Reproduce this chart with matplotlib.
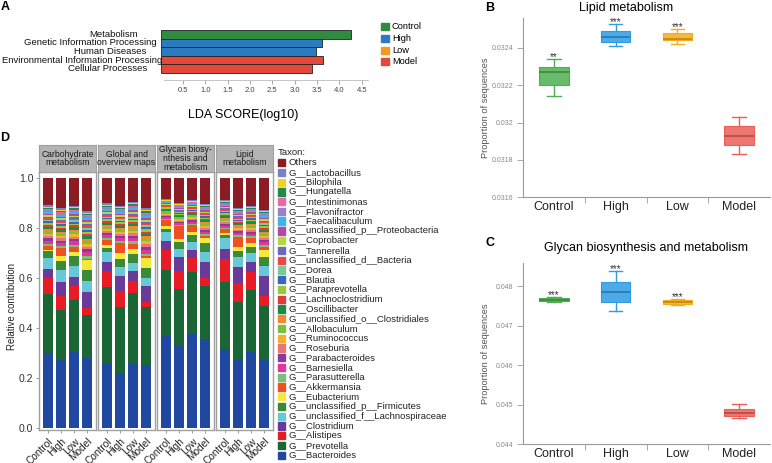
import numpy as np
import matplotlib
matplotlib.use("Agg")
import matplotlib.pyplot as plt
from matplotlib.patches import Rectangle
from matplotlib.colors import to_rgba

plt.rcParams['font.family'] = ['Liberation Sans', 'DejaVu Sans']

W, H = 772, 463

def box(x0, y0, x1, y1):
    # pixel box, origin top-left -> figure rect
    return [x0 / W, 1 - y1 / H, (x1 - x0) / W, (y1 - y0) / H]

def fx(x):
    return x / W

def fy(y):
    return 1 - y / H

# ---------------- data ----------------
groups = ['Control', 'High', 'Low', 'Model']
lda_colors = ['#2e8b3f', '#2b7bc0', '#f39a1e', '#e5483b']
box_colors = ['#4caf50', '#2f9be3', '#f5ac1b', '#ea5f58']

# A: LEfSe
lda_terms = ['Metabolism', 'Genetic Information Processing', 'Human Diseases',
             'Environmental Information Processing', 'Cellular Processes']
lda_scores = [4.25, 3.62, 3.48, 3.64, 3.38]
lda_group = ['Control', 'High', 'High', 'Model', 'Model']
lda_ticks = [0.5, 1.0, 1.5, 2.0, 2.5, 3.0, 3.5, 4.0, 4.5]

# B: lipid metabolism
lipid_whislo = [0.03214, 0.03241, 0.03242, 0.03183]
lipid_q1 = [0.03220, 0.03243, 0.03244, 0.03188]
lipid_med = [0.03227, 0.03246, 0.03245, 0.03193]
lipid_q3 = [0.03230, 0.03249, 0.03248, 0.03198]
lipid_whishi = [0.03234, 0.03253, 0.03250, 0.03203]
lipid_stars = ['**', '***', '***', '']
lipid_yticks = [0.0316, 0.0318, 0.0320, 0.0322, 0.0324]
lipid_ylabels = ['0.0316', '0.0318', '0.032', '0.0322', '0.0324']

# C: glycan biosynthesis and metabolism
glycan_whislo = [0.04760, 0.04737, 0.04752, 0.04466]
glycan_q1 = [0.04762, 0.04761, 0.04756, 0.04471]
glycan_med = [0.04765, 0.04786, 0.04760, 0.04478]
glycan_q3 = [0.04770, 0.04810, 0.04765, 0.04489]
glycan_whishi = [0.04773, 0.04839, 0.04768, 0.04501]
glycan_stars = ['***', '***', '***', '']
glycan_yticks = [0.044, 0.045, 0.046, 0.047, 0.048]
glycan_ylabels = ['0.044', '0.045', '0.046', '0.047', '0.048']

# D: taxon contribution (per mille), columns = 4 pathways x (Control, High, Low, Model)
pathways = ['Carbohydrate\nmetabolism', 'Global and\noverview maps',
            'Glycan biosy-\nnthesis and\nmetabolism', 'Lipid\nmetabolism']
taxa = ['Others', 'G__Lactobacillus', 'G__Bilophila', 'G__Hungatella',
        'G__Intestinimonas', 'G__Flavonifractor', 'G__Faecalibaculum',
        'G__unclassified_p__Proteobacteria', 'G__Coprobacter', 'G__Tannerella',
        'G__unclassified_d__Bacteria', 'G__Dorea', 'G__Blautia',
        'G__Paraprevotella', 'G__Lachnoclostridium', 'G__Oscillibacter',
        'G__unclassified_o__Clostridiales', 'G__Allobaculum', 'G__Ruminococcus',
        'G__Roseburia', 'G__Parabacteroides', 'G__Barnesiella',
        'G__Parasutterella', 'G__Akkermansia', 'G__Eubacterium',
        'G__unclassified_p__Firmicutes', 'G__unclassified_f__Lachnospiraceae',
        'G__Clostridium', 'G__Alistipes', 'G__Prevotella', 'G__Bacteroides']
taxon_colors = ['#8b1c24', '#7b7fc4', '#f2cf2e', '#1f8a4c', '#e868a8', '#9b7fc8',
                '#3db4e8', '#b04aa8', '#b8d640', '#6a6ab8', '#e84848', '#7cc89a',
                '#3a66c0', '#98c83a', '#e03a3a', '#1e8a48', '#f08a30', '#7cc040',
                '#f5b030', '#e87878', '#8a3a9a', '#e0389a', '#78c078', '#ee5020',
                '#f5e838', '#3a8a3a', '#68c8d8', '#6a3a9a', '#e81c24', '#1a6634',
                '#2048a0']
abund = [
    [107, 120, 111, 130, 100, 111, 94, 120, 84, 100, 87, 103, 87, 120, 111, 127],
    [7, 7, 6, 8, 6, 6, 7, 8, 3, 4, 4, 5, 5, 5, 5, 6],
    [5, 4, 4, 5, 4, 4, 4, 5, 3, 2, 3, 3, 3, 3, 3, 4],
    [4, 4, 5, 5, 4, 4, 5, 5, 2, 3, 3, 4, 3, 3, 4, 4],
    [4, 5, 4, 5, 4, 4, 4, 5, 2, 2, 3, 3, 3, 3, 3, 4],
    [7, 6, 6, 8, 6, 6, 7, 8, 3, 4, 4, 5, 5, 5, 5, 6],
    [8, 8, 8, 9, 7, 7, 8, 9, 4, 4, 5, 6, 5, 5, 6, 7],
    [6, 6, 7, 8, 6, 6, 7, 8, 4, 4, 4, 5, 5, 5, 5, 6],
    [7, 7, 6, 8, 6, 6, 7, 8, 3, 4, 4, 5, 5, 4, 5, 6],
    [7, 6, 6, 8, 6, 6, 7, 8, 4, 4, 4, 5, 5, 5, 5, 6],
    [5, 5, 6, 6, 5, 5, 5, 6, 3, 3, 3, 4, 4, 4, 4, 5],
    [6, 7, 7, 8, 6, 6, 7, 8, 3, 4, 4, 5, 5, 4, 5, 6],
    [7, 6, 6, 8, 6, 6, 7, 8, 3, 4, 4, 5, 5, 5, 5, 6],
    [8, 7, 8, 9, 7, 7, 8, 9, 4, 4, 5, 6, 6, 5, 6, 7],
    [7, 6, 7, 8, 6, 6, 7, 8, 3, 4, 4, 5, 5, 5, 5, 6],
    [10, 10, 10, 11, 9, 9, 10, 11, 5, 6, 6, 8, 7, 7, 8, 9],
    [9, 9, 9, 10, 8, 8, 9, 10, 4, 5, 5, 7, 6, 6, 7, 8],
    [9, 8, 9, 10, 8, 8, 9, 10, 5, 5, 5, 7, 6, 6, 7, 8],
    [10, 10, 10, 12, 9, 9, 10, 12, 5, 5, 6, 8, 7, 7, 8, 9],
    [9, 9, 9, 10, 8, 8, 9, 10, 5, 5, 5, 7, 6, 6, 7, 8],
    [10, 10, 10, 11, 9, 9, 10, 11, 5, 6, 6, 8, 7, 7, 8, 9],
    [13, 12, 13, 16, 12, 12, 13, 16, 7, 7, 8, 11, 9, 9, 10, 12],
    [9, 8, 9, 10, 8, 8, 9, 10, 5, 5, 5, 7, 6, 6, 7, 8],
    [13, 33, 20, 8, 20, 38, 20, 7, 24, 50, 27, 7, 13, 40, 20, 9],
    [7, 20, 17, 37, 10, 24, 20, 40, 11, 13, 13, 22, 9, 19, 16, 30],
    [26, 36, 41, 45, 18, 32, 37, 40, 13, 27, 27, 35, 14, 24, 24, 35],
    [45, 46, 42, 45, 41, 35, 32, 35, 36, 33, 33, 38, 44, 37, 37, 40],
    [35, 56, 38, 66, 34, 63, 40, 64, 33, 56, 35, 65, 40, 67, 40, 80],
    [67, 59, 56, 27, 64, 64, 51, 21, 81, 71, 54, 31, 93, 74, 70, 43],
    [238, 198, 207, 171, 312, 266, 285, 233, 263, 231, 248, 214, 268, 230, 250, 214],
    [298, 271, 305, 281, 254, 215, 254, 250, 369, 328, 376, 354, 314, 275, 302, 271],
]
d_yticks = [0.0, 0.2, 0.4, 0.6, 0.8, 1.0]

# ---------------- figure ----------------
fig = plt.figure(figsize=(W / 100, H / 100), dpi=100)

for lab, (x, y) in zip('ABCD', [(5, 7), (490, 8), (490, 243), (5, 138)]):
    fig.text(fx(x), fy(y), lab, fontsize=9, fontweight='bold', ha='center', va='center')

# ---- A ----
axA = fig.add_axes(box(163.7, 30, 368, 80))
ypos = np.arange(len(lda_terms))
bar_cols = [lda_colors[groups.index(g)] for g in lda_group]
axA.barh(ypos, lda_scores, height=1.0, color=bar_cols, edgecolor='#222222',
         linewidth=0.6, clip_on=False)
axA.set_xlim(0.07, 4.64)
axA.set_ylim(5.3, -0.5)
axA.set_yticks([])
# LEfSe places the term labels unevenly; right edges in pixels
label_right = [138, 157, 146, 162, 147]
for yy, term, xr in zip(ypos, lda_terms, label_right):
    fig.text(fx(xr), fy(30 + (yy + 0.5) * 8.6), term, fontsize=6.8, ha='right',
             va='center', color='#111111')
axA.set_xticks(lda_ticks)
axA.set_xticklabels([str(t) for t in lda_ticks], fontsize=5.5, color='#444444')
axA.tick_params(axis='x', length=3, color='#999999', width=0.6, pad=2)
for s in ['top', 'right', 'left']:
    axA.spines[s].set_visible(False)
axA.spines['bottom'].set_color('#bbbbbb')
axA.spines['bottom'].set_linewidth(0.6)
fig.text(fx(243), fy(115), 'LDA SCORE(log10)', fontsize=9, ha='center', va='center')
for i, (g, c) in enumerate(zip(groups, lda_colors)):
    y = 26.7 + i * 11.7
    fig.patches.append(Rectangle((fx(380.5), fy(y + 3.5)), 8 / W, 7 / H,
                                 transform=fig.transFigure, color=c))
    fig.text(fx(392), fy(y), g, fontsize=6.7, va='center')

# ---- B and C ----
def boxpanel(rect, lo, q1, med, q3, hi, stars, yticks, ylabels, ylim, title, title_xy):
    ax = fig.add_axes(box(*rect))
    stats = [dict(med=med[i], q1=q1[i], q3=q3[i], whislo=lo[i], whishi=hi[i], fliers=[])
             for i in range(len(groups))]
    bp = ax.bxp(stats, positions=range(4), widths=0.48, patch_artist=True,
                showfliers=False, capwidths=0.22)
    for i, c in enumerate(box_colors):
        bp['boxes'][i].set_facecolor(to_rgba(c, 0.85))
        bp['boxes'][i].set_edgecolor(c)
        bp['boxes'][i].set_linewidth(0.8)
        for ln in bp['whiskers'][2 * i:2 * i + 2] + bp['caps'][2 * i:2 * i + 2]:
            ln.set_color(c)
            ln.set_linewidth(1.0)
        bp['medians'][i].set_color(tuple(np.array(to_rgba(c)[:3]) * 0.8))
        bp['medians'][i].set_linewidth(1.3)
    for i, s in enumerate(stars):
        if s:
            ax.annotate(s, (i, hi[i]), xytext=(0, -0.8), textcoords='offset points',
                        ha='center', va='baseline', fontsize=7, color='#333333')
    ax.set_xlim(-0.5, 3.5)
    ax.set_ylim(*ylim)
    ax.set_yticks(yticks)
    ax.set_yticklabels(ylabels, fontsize=5, color='#888888')
    ax.tick_params(axis='y', length=4, color='#999999', width=0.6, pad=3)
    ax.set_xticks([0.5, 1.5, 2.5])
    ax.set_xticklabels([])
    ax.tick_params(axis='x', which='major', length=4, color='#999999', width=0.6)
    ax.set_xticks(range(4), minor=True)
    ax.set_xticklabels(groups, minor=True, fontsize=9, color='#222222')
    ax.tick_params(axis='x', which='minor', length=0, pad=3)
    for s in ['top', 'right']:
        ax.spines[s].set_visible(False)
    for s in ['left', 'bottom']:
        ax.spines[s].set_color('#999999')
        ax.spines[s].set_linewidth(0.8)
    fig.text(fx(title_xy[0]), fy(title_xy[1]), title, fontsize=9, ha='center', va='center')
    fig.text(fx(486), fy((rect[1] + rect[3]) / 2), 'Proportion of sequences', fontsize=6.7,
             rotation=90, ha='center', va='center', color='#555555')
    return ax

boxpanel((523, 18, 770, 197.3), lipid_whislo, lipid_q1, lipid_med, lipid_q3, lipid_whishi,
         lipid_stars, lipid_yticks, lipid_ylabels, (0.0316, 0.03256),
         'Lipid metabolism', (626, 8.5))
boxpanel((523, 263.3, 770, 444.3), glycan_whislo, glycan_q1, glycan_med, glycan_q3,
         glycan_whishi, glycan_stars, glycan_yticks, glycan_ylabels, (0.044, 0.04858),
         'Glycan biosynthesis and metabolism', (646, 248))

# ---- D ----
vals = np.array(abund, dtype=float)
rel = vals / vals.sum(axis=0)
for p in range(4):
    x0 = 39 + p * 59
    ax = fig.add_axes(box(x0, 172, x0 + 57, 430))
    sub = rel[:, p * 4:(p + 1) * 4]
    bottom = np.zeros(4)
    for i in reversed(range(len(taxa))):
        ax.bar(range(4), sub[i], 0.77, bottom=bottom, color=taxon_colors[i], linewidth=0)
        bottom += sub[i]
    ax.set_xlim(-0.65, 3.65)
    ax.set_ylim(-0.01, 1.025)
    for s in ax.spines.values():
        s.set_color('#a0a0a0')
        s.set_linewidth(1.0)
    ax.set_xticks(range(4))
    ax.set_xticklabels(groups, rotation=45, ha='right', rotation_mode='anchor',
                       fontsize=7.3, color='#222222')
    ax.tick_params(axis='x', length=2.5, color='#888888', width=0.6, pad=2)
    if p == 0:
        ax.set_yticks(d_yticks)
        ax.set_yticklabels(['%.1f' % t for t in d_yticks], fontsize=7.5, color='#333333')
        ax.tick_params(axis='y', length=2.5, color='#888888', width=0.6, pad=1.5)
    else:
        ax.set_yticks([])
    sax = fig.add_axes(box(x0, 145, x0 + 57, 172))
    sax.set_facecolor('#b4b4b4')
    sax.set_xticks([])
    sax.set_yticks([])
    for s in sax.spines.values():
        s.set_color('#a0a0a0')
    sax.text(0.5, 0.5, pathways[p], ha='center', va='center', fontsize=6.2,
             linespacing=0.95, color='#1a1a1a', transform=sax.transAxes)

fig.text(fx(12), fy(306), 'Relative contribution', fontsize=6.9, rotation=90,
         ha='center', va='center', color='#222222')

fig.text(fx(277.5), fy(152.7), 'Taxon:', fontsize=6.8, va='center', color='#222222')
for i, (name, c) in enumerate(zip(taxa, taxon_colors)):
    y = 162.7 + i * 9.75
    fig.patches.append(Rectangle((fx(277.7), fy(y + 3.6)), 7.3 / W, 7.3 / H,
                                 transform=fig.transFigure, color=c))
    fig.text(fx(288.3), fy(y), name, fontsize=6.8, va='center', color='#222222')

fig.savefig('out.png', dpi=100)
